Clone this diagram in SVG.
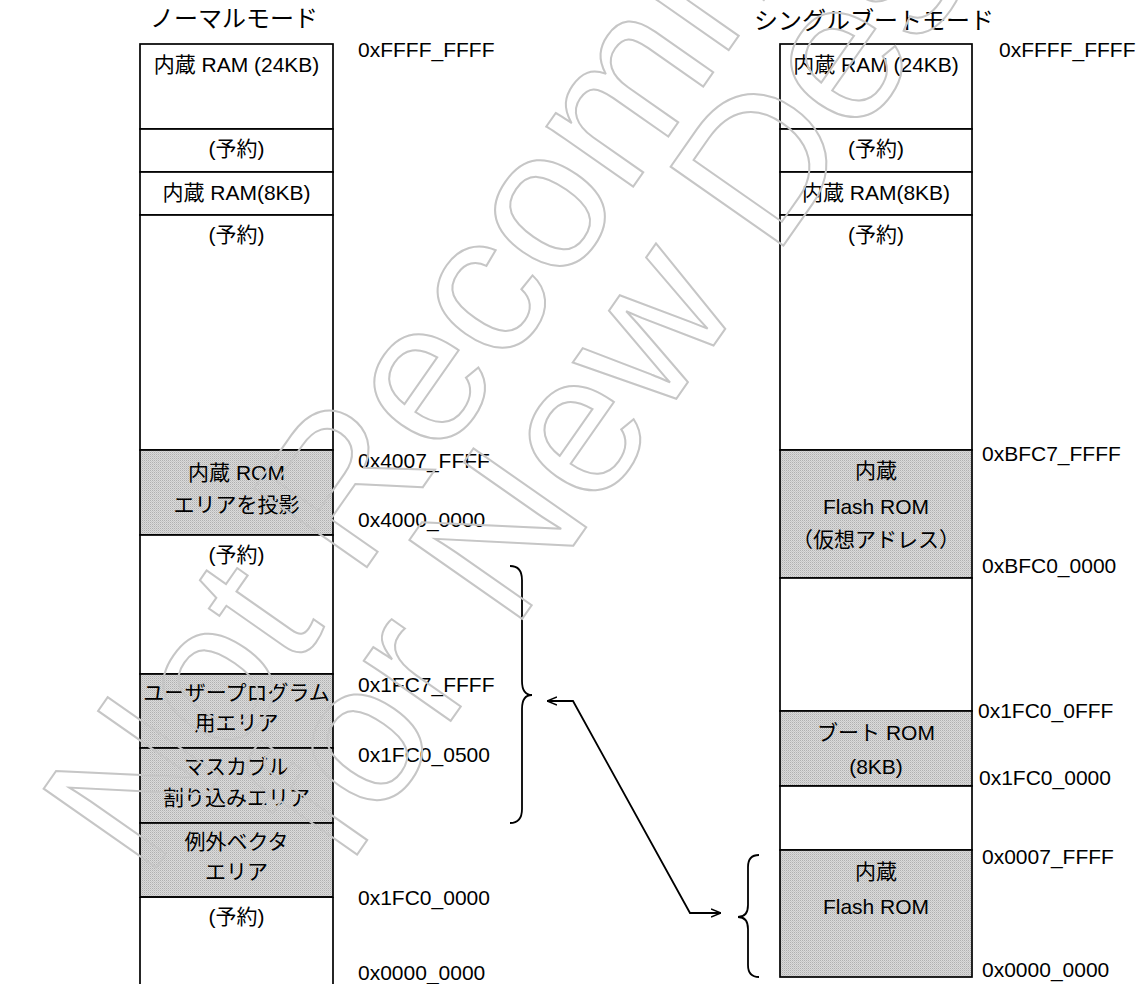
<svg xmlns="http://www.w3.org/2000/svg" width="1142" height="984" viewBox="0 0 1142 984">
<style>
  text { font-family: "Liberation Sans", "Noto Sans CJK JP", sans-serif; font-size: 21px; fill: #000; }
  .c { text-anchor: middle; }
  .t { font-size: 24px; }
  .box { fill: #fff; stroke: #000; stroke-width: 1.7; }
  .rom { fill: url(#stip); stroke: #000; stroke-width: 1.7; }
  .ln { stroke: #000; stroke-width: 1.7; fill: none; }
  .wm { font-size: 200px; fill: none; stroke: #c6c6c6; stroke-width: 2; }
  .conn { fill: none; stroke: #000; stroke-width: 1.8; }
</style>
<defs>
  <pattern id="stip" width="2" height="2" patternUnits="userSpaceOnUse">
    <rect width="2" height="2" fill="#dadada"/>
    <rect width="1" height="1" fill="#b0b0b0"/>
    <rect x="1" y="1" width="1" height="1" fill="#c6c6c6"/>
  </pattern>
  <marker id="ah" viewBox="0 0 10 10" refX="10" refY="5" markerWidth="10" markerHeight="10" markerUnits="userSpaceOnUse" orient="auto-start-reverse">
    <path d="M0,1 L10,5 L0,9" fill="none" stroke="#000" stroke-width="1.6"/>
  </marker>
</defs>
<rect width="1142" height="984" fill="#fff"/>

<!-- Left column: normal mode -->
<g id="title-normal"><text class="c t" x="234" y="27">ノーマルモード</text></g>
<g id="L-ram24"><rect class="box" x="140" y="44" width="193" height="85"/><text class="c" x="236.5" y="72">内蔵 RAM (24KB)</text></g>
<g id="L-rsv1"><rect class="box" x="140" y="129" width="193" height="43"/><text class="c" x="236.5" y="156">(予約)</text></g>
<g id="L-ram8"><rect class="box" x="140" y="172" width="193" height="43"/><text class="c" x="236.5" y="200">内蔵 RAM(8KB)</text></g>
<g id="L-rsv2"><rect class="box" x="140" y="215" width="193" height="235"/><text class="c" x="236.5" y="242">(予約)</text></g>
<g id="L-rom"><rect class="rom" x="140" y="450" width="193" height="85"/><text class="c" x="236.5" y="480">内蔵 ROM</text><text class="c" x="236.5" y="512">エリアを投影</text></g>
<g id="L-rsv3"><rect class="box" x="140" y="535" width="193" height="139"/><text class="c" x="236.5" y="562">(予約)</text></g>
<g id="L-user"><rect class="rom" x="140" y="674" width="193" height="74"/><text class="c" x="236.5" y="700">ユーザープログラム</text><text class="c" x="236.5" y="730">用エリア</text></g>
<g id="L-mask"><rect class="rom" x="140" y="748" width="193" height="75"/><text class="c" x="236.5" y="774">マスカブル</text><text class="c" x="236.5" y="805">割り込みエリア</text></g>
<g id="L-vec"><rect class="rom" x="140" y="823" width="193" height="74"/><text class="c" x="236.5" y="849">例外ベクタ</text><text class="c" x="236.5" y="879">エリア</text></g>
<g id="L-rsv4"><path class="ln" d="M140,897 L333,897 M140,897 L140,986 M333,897 L333,986"/><text class="c" x="236.5" y="924">(予約)</text></g>

<g id="L-addr">
  <text x="358" y="57">0xFFFF_FFFF</text>
  <text x="358" y="468">0x4007_FFFF</text>
  <text x="358" y="527">0x4000_0000</text>
  <text x="358" y="692">0x1FC7_FFFF</text>
  <text x="358" y="762">0x1FC0_0500</text>
  <text x="358" y="905">0x1FC0_0000</text>
  <text x="358" y="980">0x0000_0000</text>
</g>

<!-- Right column: single boot mode -->
<g id="title-boot"><text class="c t" x="874" y="29">シングルブートモード</text></g>
<g id="R-ram24"><rect class="box" x="780" y="44" width="192" height="85"/><text class="c" x="876" y="72">内蔵 RAM (24KB)</text></g>
<g id="R-rsv1"><rect class="box" x="780" y="129" width="192" height="43"/><text class="c" x="876" y="156">(予約)</text></g>
<g id="R-ram8"><rect class="box" x="780" y="172" width="192" height="43"/><text class="c" x="876" y="200">内蔵 RAM(8KB)</text></g>
<g id="R-rsv2"><rect class="box" x="780" y="215" width="192" height="235"/><text class="c" x="876" y="242">(予約)</text></g>
<g id="R-vflash"><rect class="rom" x="780" y="450" width="192" height="128"/><text class="c" x="876" y="478">内蔵</text><text class="c" x="876" y="514">Flash ROM</text><text class="c" x="876" y="547">（仮想アドレス）</text></g>
<g id="R-blank1"><rect class="box" x="780" y="578" width="192" height="133"/></g>
<g id="R-boot"><rect class="rom" x="780" y="711" width="192" height="75"/><text class="c" x="876" y="740">ブート ROM</text><text class="c" x="876" y="774">(8KB)</text></g>
<g id="R-blank2"><rect class="box" x="780" y="786" width="192" height="64"/></g>
<g id="R-flash"><rect class="rom" x="780" y="850" width="192" height="127"/><text class="c" x="876" y="879">内蔵</text><text class="c" x="876" y="914">Flash ROM</text></g>

<g id="R-addr">
  <text x="999" y="57">0xFFFF_FFFF</text>
  <text x="982" y="461">0xBFC7_FFFF</text>
  <text x="982" y="573">0xBFC0_0000</text>
  <text x="978" y="718">0x1FC0_0FFF</text>
  <text x="979" y="785">0x1FC0_0000</text>
  <text x="982" y="864">0x0007_FFFF</text>
  <text x="982" y="977">0x0000_0000</text>
</g>

<!-- Connectors -->
<g id="connectors">
  <path class="conn" d="M510,566 Q522,566 522,580 L522,681 Q522,695 532,695 Q522,695 522,709 L522,809 Q522,823 510,823"/>
  <path class="conn" d="M759,855 Q748,855 748,867 L748,905 Q748,917 738,917 Q748,917 748,929 L748,965 Q748,977 759,977"/>
  <path class="conn" d="M547,701 L573,701 L690,913 L721,913" marker-start="url(#ah)" marker-end="url(#ah)"/>
</g>

<!-- Watermark -->
<g id="watermark">
  <text class="wm" transform="translate(147,881) rotate(-55)">Not Recommended</text>
  <text class="wm" transform="translate(347,869) rotate(-55)">for New Design</text>
</g>
</svg>
